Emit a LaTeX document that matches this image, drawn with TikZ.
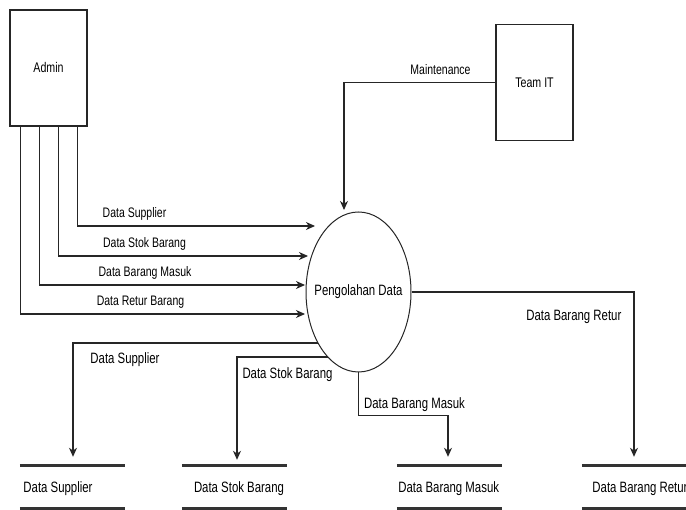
\documentclass[tikz,border=0pt]{standalone}
\usepackage{fontspec}
\setmainfont{Liberation Sans}[FakeStretch=0.76]
\usetikzlibrary{arrows.meta,calc,shapes.geometric}

\begin{document}
\begin{tikzpicture}[x=1pt,y=-1pt,
  entity/.style={draw=black!85, line width=1.1pt, fill=white, minimum width=77pt,
    minimum height=116pt, inner sep=0pt, font=\fontsize{14}{16}\selectfont},
  process/.style={draw=black!85, line width=1pt, ellipse, minimum width=105pt,
    minimum height=160pt, inner sep=0pt},
  store/.style={minimum width=105pt, minimum height=42pt, inner sep=0pt},
  storeline/.style={draw=black!80, line width=2.8pt},
  flow/.style={draw=black!85, line width=1.15pt, -{Stealth[length=9pt,width=8pt,inset=2.8pt]}},
  inlabel/.style={font=\fontsize{13.8}{16}\selectfont, inner sep=1pt},
  outlabel/.style={font=\fontsize{15}{17}\selectfont, inner sep=1pt},
]
\useasboundingbox (0,0) rectangle (686,510);

% external entities
\node[entity] (admin) at (48.5,68) {Admin};
\node[entity] (team) at (534.5,82.5) {Team IT};

% process
\node[process] (proc) at (358.5,292) {};
\node[outlabel] (proctext) at (proc.center) {Pengolahan Data};

% data stores
\node[store] (s1) at (72.5,487) {};
\node[store] (s2) at (234.5,487) {};
\node[store] (s3) at (449.5,487) {};
\node[store, minimum width=104pt] (s4) at (634,487) {};
\foreach \s in {s1,s2,s3,s4}{
  \draw[storeline] (\s.north west) -- (\s.north east);
  \draw[storeline] (\s.south west) -- (\s.south east);
}
\node[outlabel] (t1) at (58,489) {Data Supplier};
\node[outlabel] (t2) at (239,489) {Data Stok Barang};
\node[outlabel] (t3) at (448.7,489) {Data Barang Masuk};
\node[outlabel] (t4) at (640,489) {Data Barang Retur};

% flows from Admin into the process
\coordinate (in1) at ($(proc.center)+(-43.5,-66)$);
\coordinate (in2) at ($(proc.center)+(-50.5,-36)$);
\coordinate (in3) at ($(proc.center)+(-53.5,-7)$);
\coordinate (in4) at ($(proc.center)+(-53.5,22)$);
\draw[flow] ($(admin.south west)+(68,0)$) |- (in1);
\draw[flow] ($(admin.south west)+(49,0)$) |- (in2);
\draw[flow] ($(admin.south west)+(30,0)$) |- (in3);
\draw[flow] ($(admin.south west)+(11,0)$) |- (in4);
\node[inlabel] (l1) at (134.5,214) {Data Supplier};
\node[inlabel] (l2) at (144.5,244) {Data Stok Barang};
\node[inlabel] (l3) at (145,272.5) {Data Barang Masuk};
\node[inlabel] (l4) at (140.5,302) {Data Retur Barang};

% maintenance flow from Team IT
\coordinate (mt) at ($(proc.center)+(-14.5,-82)$);
\draw[flow] (team.west) -| (mt);
\node[inlabel] (lm) at (440.5,69.5) {Maintenance};

% flows from the process into the stores
\draw[flow] ($(proc.center)+(-40.4,51)$) -| ($(s1.north)+(0.5,-9)$);
\draw[flow] ($(proc.center)+(-30.6,65)$) -| ($(s2.north)+(2.5,-6)$);
\draw[flow] (proc.south) -- ++(0,43) -| ($(s3.north)+(-1.5,-9)$);
\draw[flow] (proc.east) -| ($(s4.north)+(0,-9)$);
\node[outlabel] (o1) at (125,360) {Data Supplier};
\node[outlabel] (o2) at (287.5,375) {Data Stok Barang};
\node[outlabel] (o3) at (414.5,405) {Data Barang Masuk};
\node[outlabel] (o4) at (573.8,317) {Data Barang Retur};
\end{tikzpicture}
\end{document}
